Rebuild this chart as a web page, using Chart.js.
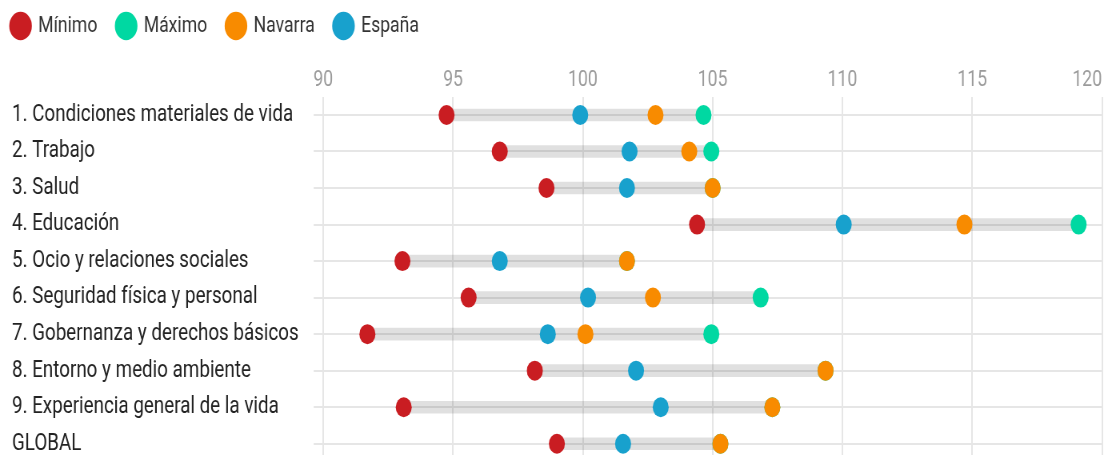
<!DOCTYPE html>
<html>
<head>
<meta charset="utf-8">
<script src="https://cdn.jsdelivr.net/npm/chart.js@4.4.1/dist/chart.umd.min.js"></script>
<style>
html, body { margin: 0; padding: 0; background: #fff; overflow: hidden; width: 1112px; height: 455px; }
#wrap { width: 1390px; height: 462px; transform: scaleX(0.8); transform-origin: 0 0; }
canvas { display: block; }
</style>
</head>
<body>
<div id="wrap"><canvas id="grafico" width="1390" height="462"></canvas></div>
<script>
const categorias = [
    '1. Condiciones materiales de vida',
    '2. Trabajo',
    '3. Salud',
    '4. Educación',
    '5. Ocio y relaciones sociales',
    '6. Seguridad física y personal',
    '7. Gobernanza y derechos básicos',
    '8. Entorno y medio ambiente',
    '9. Experiencia general de la vida',
    'GLOBAL'
];
const minimo  = [94.75, 96.8, 98.6, 104.4, 93.05, 95.6, 91.7, 98.15, 93.1, 99.0];
const maximo  = [104.65, 104.95, 105.0, 119.1, 101.7, 106.85, 104.95, 109.35, 107.3, 105.3];
const navarra = [102.8, 104.1, 105.0, 114.7, 101.7, 102.7, 100.1, 109.35, 107.3, 105.3];
const espana  = [99.9, 101.8, 101.7, 110.05, 96.8, 100.2, 98.65, 102.05, 103.0, 101.55];
const ejeMin = 90, ejeMax = 120, ejePaso = 5;

const rango = categorias.map((c, i) => [minimo[i], maximo[i]]);

// layout numbers are in the unsqueezed 1390px canvas
const LEFT = -10.3, TOP = -10, AREA_TOP = 96.7, AREA_LEFT = 404.1, LABEL_X = 15;

function punto(label, data, color, order) {
    return {
        type: 'line', label: label, data: data, indexAxis: 'y',
        xAxisID: 'x', yAxisID: 'y',
        showLine: false, order: order,
        backgroundColor: color, borderColor: color, borderWidth: 0,
        pointStyle: 'circle', pointRadius: 10, pointHoverRadius: 10,
        pointBackgroundColor: color, pointBorderWidth: 0
    };
}

function sinRelleno(s) {
    s.paddingTop = 0;
    s.paddingBottom = 0;
    s.paddingLeft = 0;
    s.paddingRight = 0;
}

const ctx = document.getElementById('grafico');

new Chart(ctx, {
    type: 'bar',
    data: {
        labels: categorias,
        datasets: [
            punto('Mínimo', minimo, '#c91d22', 3),
            punto('Máximo', maximo, '#00d8a2', 4),
            punto('Navarra', navarra, '#f88b00', 1),
            punto('España', espana, '#18a1cd', 2),
            {
                type: 'bar', label: 'rango', data: rango,
                xAxisID: 'x', yAxisID: 'y',
                backgroundColor: 'rgba(0,0,0,0.12)', borderWidth: 0, borderSkipped: false,
                barThickness: 12, order: 5
            }
        ]
    },
    options: {
        indexAxis: 'y',
        responsive: false,
        devicePixelRatio: 1,
        animation: false,
        font: { family: 'Roboto' },
        layout: { autoPadding: false, padding: { left: LEFT, top: TOP, right: 12.5, bottom: 0 } },
        plugins: {
            legend: {
                align: 'start',
                labels: {
                    usePointStyle: true, boxWidth: 22, boxHeight: 20, padding: 25,
                    color: '#333', font: { family: 'Roboto', size: 22 },
                    filter: (it) => it.datasetIndex < 4,
                    sort: (a, b) => a.datasetIndex - b.datasetIndex
                }
            },
            tooltip: { enabled: false }
        },
        scales: {
            x: {
                type: 'linear', position: 'top', min: ejeMin, max: ejeMax,
                ticks: {
                    stepSize: ejePaso, padding: 3, color: '#9b9b9b',
                    font: { family: 'Roboto', size: 22 },
                    // last label sits left of its gridline
                    callback: (v) => v === ejeMax ? v + '\u2007\u2007\u2007' : v
                },
                grid: { color: '#e6e6e6', lineWidth: 2, drawTicks: false },
                border: { display: false },
                afterFit: (s) => {
                    s.height = AREA_TOP - TOP - s.chart.legend.height;
                    sinRelleno(s);
                }
            },
            y: {
                type: 'category', offset: true,
                ticks: { crossAlign: 'far', color: '#222', font: { family: 'Roboto', size: 23.5 } },
                grid: { offset: false, color: '#e6e6e6', lineWidth: 2, tickLength: 12 },
                border: { display: false },
                afterFit: (s) => {
                    s.width = AREA_LEFT - LABEL_X;
                    sinRelleno(s);
                }
            },
            margen: {
                type: 'linear', axis: 'y', position: 'left', weight: 1,
                grid: { display: false }, ticks: { display: false }, border: { display: false },
                afterFit: (s) => {
                    s.width = LABEL_X - LEFT;
                    sinRelleno(s);
                }
            }
        }
    }
});
</script>
</body>
</html>
